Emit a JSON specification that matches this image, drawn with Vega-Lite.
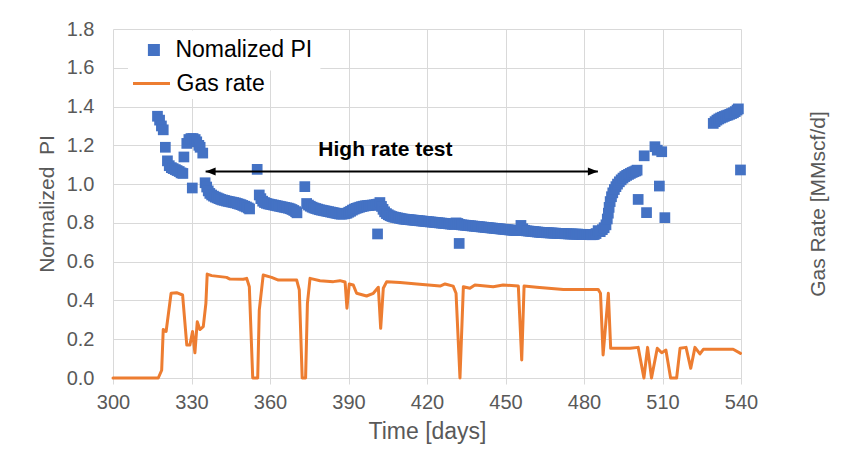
{
  "$schema": "https://vega.github.io/schema/vega-lite/v6.json",
  "width": 628,
  "height": 349,
  "autosize": {"type": "none"},
  "padding": {"left": 113, "top": 29, "right": 112, "bottom": 81},
  "background": "white",
  "config": {
    "font": "Liberation Sans",
    "view": {"stroke": null},
    "axis": {
      "labelFont": "Liberation Sans",
      "titleFont": "Liberation Sans",
      "labelFontSize": 20,
      "titleFontSize": 21,
      "labelColor": "#595959",
      "titleColor": "#595959",
      "titleFontWeight": "normal",
      "labelOverlap": false,
      "labelSeparation": 0,
      "gridColor": "#d9d9d9",
      "gridWidth": 1,
      "domainColor": "#d9d9d9",
      "tickColor": "#d9d9d9"
    },
    "axisY": {
      "values": [0, 0.2, 0.4, 0.6, 0.8, 1.0, 1.2, 1.4, 1.6, 1.8],
      "labelOverlap": false,
      "labelBound": false,
      "labelFlush": false
    }
  },
  "datasets": {
    "pi": [
      {"day": 317.0, "pi": 1.35}, {"day": 317.8, "pi": 1.33}, {"day": 318.5, "pi": 1.30}, {"day": 319.2, "pi": 1.28},
      {"day": 320.0, "pi": 1.19}, {"day": 320.8, "pi": 1.12}, {"day": 321.5, "pi": 1.095}, {"day": 322.3, "pi": 1.085},
      {"day": 323.0, "pi": 1.08}, {"day": 323.8, "pi": 1.075}, {"day": 324.5, "pi": 1.07}, {"day": 325.3, "pi": 1.065},
      {"day": 326.0, "pi": 1.058}, {"day": 326.7, "pi": 1.055}, {"day": 327.1, "pi": 1.14}, {"day": 328.2, "pi": 1.21},
      {"day": 329.0, "pi": 1.23}, {"day": 329.8, "pi": 1.235}, {"day": 330.6, "pi": 1.235}, {"day": 331.4, "pi": 1.23},
      {"day": 332.0, "pi": 1.218}, {"day": 332.8, "pi": 1.2}, {"day": 333.3, "pi": 1.19}, {"day": 334.3, "pi": 1.16},
      {"day": 330.3, "pi": 0.98},
      {"day": 335.2, "pi": 1.007}, {"day": 335.8, "pi": 0.985}, {"day": 336.4, "pi": 0.965}, {"day": 337.0, "pi": 0.952},
      {"day": 337.7, "pi": 0.944}, {"day": 338.4, "pi": 0.938}, {"day": 339.1, "pi": 0.933}, {"day": 339.8, "pi": 0.929},
      {"day": 340.5, "pi": 0.925}, {"day": 341.2, "pi": 0.921}, {"day": 341.9, "pi": 0.918}, {"day": 342.6, "pi": 0.916},
      {"day": 343.3, "pi": 0.913}, {"day": 344.0, "pi": 0.911}, {"day": 344.7, "pi": 0.909}, {"day": 345.4, "pi": 0.907},
      {"day": 346.1, "pi": 0.905}, {"day": 346.8, "pi": 0.903}, {"day": 347.5, "pi": 0.9}, {"day": 348.2, "pi": 0.897},
      {"day": 348.9, "pi": 0.894}, {"day": 349.6, "pi": 0.89}, {"day": 350.3, "pi": 0.886}, {"day": 351.0, "pi": 0.882},
      {"day": 351.7, "pi": 0.877}, {"day": 352.2, "pi": 0.872},
      {"day": 355.1, "pi": 1.076}, {"day": 355.9, "pi": 0.944}, {"day": 356.5, "pi": 0.925}, {"day": 357.2, "pi": 0.912},
      {"day": 357.9, "pi": 0.905}, {"day": 358.6, "pi": 0.901}, {"day": 359.3, "pi": 0.898}, {"day": 360.0, "pi": 0.896},
      {"day": 360.7, "pi": 0.894}, {"day": 361.4, "pi": 0.892}, {"day": 362.1, "pi": 0.89}, {"day": 362.8, "pi": 0.888},
      {"day": 363.5, "pi": 0.886}, {"day": 364.2, "pi": 0.884}, {"day": 364.9, "pi": 0.882}, {"day": 365.6, "pi": 0.88},
      {"day": 366.3, "pi": 0.878}, {"day": 367.0, "pi": 0.876}, {"day": 367.7, "pi": 0.873}, {"day": 368.4, "pi": 0.869},
      {"day": 369.1, "pi": 0.864}, {"day": 369.8, "pi": 0.858}, {"day": 370.3, "pi": 0.852},
      {"day": 373.3, "pi": 0.987}, {"day": 374.0, "pi": 0.9}, {"day": 374.7, "pi": 0.892}, {"day": 375.4, "pi": 0.886},
      {"day": 376.1, "pi": 0.881}, {"day": 376.8, "pi": 0.877}, {"day": 377.5, "pi": 0.874}, {"day": 378.2, "pi": 0.871},
      {"day": 378.9, "pi": 0.868}, {"day": 379.6, "pi": 0.866}, {"day": 380.3, "pi": 0.864}, {"day": 381.0, "pi": 0.862},
      {"day": 381.7, "pi": 0.86}, {"day": 382.4, "pi": 0.858}, {"day": 383.1, "pi": 0.856}, {"day": 383.8, "pi": 0.854},
      {"day": 384.5, "pi": 0.852}, {"day": 385.2, "pi": 0.85}, {"day": 385.9, "pi": 0.848}, {"day": 386.6, "pi": 0.846},
      {"day": 387.3, "pi": 0.845}, {"day": 388.0, "pi": 0.846}, {"day": 388.7, "pi": 0.848}, {"day": 389.4, "pi": 0.85},
      {"day": 390.1, "pi": 0.855}, {"day": 390.8, "pi": 0.86}, {"day": 391.5, "pi": 0.866}, {"day": 392.2, "pi": 0.871},
      {"day": 392.9, "pi": 0.875}, {"day": 393.6, "pi": 0.878}, {"day": 394.3, "pi": 0.881}, {"day": 395.0, "pi": 0.884},
      {"day": 395.7, "pi": 0.886}, {"day": 396.4, "pi": 0.888}, {"day": 397.1, "pi": 0.889}, {"day": 397.8, "pi": 0.89},
      {"day": 398.5, "pi": 0.891}, {"day": 399.2, "pi": 0.892}, {"day": 399.9, "pi": 0.893}, {"day": 400.6, "pi": 0.895},
      {"day": 401.3, "pi": 0.897}, {"day": 402.0, "pi": 0.905}, {"day": 401.1, "pi": 0.743}, {"day": 402.6, "pi": 0.885},
      {"day": 403.2, "pi": 0.87}, {"day": 403.8, "pi": 0.857}, {"day": 404.5, "pi": 0.848}, {"day": 405.2, "pi": 0.842},
      {"day": 405.9, "pi": 0.837}, {"day": 406.6, "pi": 0.833}, {"day": 407.3, "pi": 0.83}, {"day": 408.0, "pi": 0.828},
      {"day": 408.7, "pi": 0.826}, {"day": 409.4, "pi": 0.824}, {"day": 410.1, "pi": 0.822}, {"day": 410.8, "pi": 0.82},
      {"day": 411.5, "pi": 0.819}, {"day": 412.2, "pi": 0.818}, {"day": 412.9, "pi": 0.817}, {"day": 413.6, "pi": 0.816},
      {"day": 414.3, "pi": 0.815}, {"day": 415.0, "pi": 0.814}, {"day": 415.7, "pi": 0.813}, {"day": 416.4, "pi": 0.812},
      {"day": 417.1, "pi": 0.811}, {"day": 417.8, "pi": 0.81}, {"day": 418.5, "pi": 0.809}, {"day": 419.2, "pi": 0.808},
      {"day": 419.9, "pi": 0.807}, {"day": 420.6, "pi": 0.806}, {"day": 421.3, "pi": 0.805}, {"day": 422.0, "pi": 0.804},
      {"day": 422.7, "pi": 0.803}, {"day": 423.4, "pi": 0.802}, {"day": 424.1, "pi": 0.801}, {"day": 424.8, "pi": 0.8},
      {"day": 425.5, "pi": 0.799}, {"day": 426.2, "pi": 0.798}, {"day": 426.9, "pi": 0.797}, {"day": 427.6, "pi": 0.796},
      {"day": 428.3, "pi": 0.795}, {"day": 429.0, "pi": 0.794}, {"day": 429.7, "pi": 0.793}, {"day": 430.4, "pi": 0.792},
      {"day": 431.1, "pi": 0.8}, {"day": 431.8, "pi": 0.797}, {"day": 432.3, "pi": 0.694}, {"day": 432.5, "pi": 0.792},
      {"day": 433.2, "pi": 0.79}, {"day": 433.9, "pi": 0.789}, {"day": 434.6, "pi": 0.788}, {"day": 435.3, "pi": 0.787},
      {"day": 436.0, "pi": 0.786}, {"day": 436.7, "pi": 0.785}, {"day": 437.4, "pi": 0.784}, {"day": 438.1, "pi": 0.783},
      {"day": 438.8, "pi": 0.782}, {"day": 439.5, "pi": 0.781}, {"day": 440.2, "pi": 0.78}, {"day": 440.9, "pi": 0.779},
      {"day": 441.6, "pi": 0.778}, {"day": 442.3, "pi": 0.777}, {"day": 443.0, "pi": 0.776}, {"day": 443.7, "pi": 0.775},
      {"day": 444.4, "pi": 0.774}, {"day": 445.1, "pi": 0.773}, {"day": 445.8, "pi": 0.772}, {"day": 446.5, "pi": 0.771},
      {"day": 447.2, "pi": 0.77}, {"day": 447.9, "pi": 0.769}, {"day": 448.6, "pi": 0.768}, {"day": 449.3, "pi": 0.767},
      {"day": 450.0, "pi": 0.766}, {"day": 450.7, "pi": 0.765}, {"day": 451.4, "pi": 0.764}, {"day": 452.1, "pi": 0.763},
      {"day": 452.8, "pi": 0.762}, {"day": 453.5, "pi": 0.761}, {"day": 454.2, "pi": 0.76}, {"day": 455.9, "pi": 0.787},
      {"day": 456.6, "pi": 0.77}, {"day": 457.3, "pi": 0.762}, {"day": 458.0, "pi": 0.759}, {"day": 458.7, "pi": 0.758},
      {"day": 459.4, "pi": 0.757}, {"day": 460.1, "pi": 0.756}, {"day": 460.8, "pi": 0.755}, {"day": 461.5, "pi": 0.754},
      {"day": 462.2, "pi": 0.753}, {"day": 462.9, "pi": 0.752}, {"day": 463.6, "pi": 0.751}, {"day": 464.3, "pi": 0.75},
      {"day": 465.0, "pi": 0.75}, {"day": 465.7, "pi": 0.749}, {"day": 466.4, "pi": 0.749}, {"day": 467.1, "pi": 0.748},
      {"day": 467.8, "pi": 0.748}, {"day": 468.5, "pi": 0.747}, {"day": 469.2, "pi": 0.747}, {"day": 469.9, "pi": 0.746},
      {"day": 470.6, "pi": 0.746}, {"day": 471.3, "pi": 0.745}, {"day": 472.0, "pi": 0.745}, {"day": 472.7, "pi": 0.744},
      {"day": 473.4, "pi": 0.744}, {"day": 474.1, "pi": 0.743}, {"day": 474.8, "pi": 0.743}, {"day": 475.5, "pi": 0.743},
      {"day": 476.2, "pi": 0.742}, {"day": 476.9, "pi": 0.742}, {"day": 477.6, "pi": 0.742}, {"day": 478.3, "pi": 0.741},
      {"day": 479.0, "pi": 0.741}, {"day": 479.7, "pi": 0.741}, {"day": 480.4, "pi": 0.74}, {"day": 481.1, "pi": 0.74},
      {"day": 481.8, "pi": 0.74}, {"day": 482.5, "pi": 0.739}, {"day": 483.2, "pi": 0.739}, {"day": 483.9, "pi": 0.74},
      {"day": 484.6, "pi": 0.745}, {"day": 485.4, "pi": 0.76}, {"day": 486.2, "pi": 0.755}, {"day": 487.0, "pi": 0.765},
      {"day": 487.7, "pi": 0.775}, {"day": 488.4, "pi": 0.79}, {"day": 488.9, "pi": 0.82}, {"day": 489.3, "pi": 0.85},
      {"day": 489.6, "pi": 0.88}, {"day": 490.0, "pi": 0.91}, {"day": 490.5, "pi": 0.935}, {"day": 491.0, "pi": 0.955},
      {"day": 491.6, "pi": 0.972}, {"day": 492.2, "pi": 0.987}, {"day": 492.8, "pi": 1.0}, {"day": 493.5, "pi": 1.012},
      {"day": 494.2, "pi": 1.022}, {"day": 494.9, "pi": 1.031}, {"day": 495.6, "pi": 1.039}, {"day": 496.3, "pi": 1.045},
      {"day": 497.0, "pi": 1.05}, {"day": 497.7, "pi": 1.055}, {"day": 498.4, "pi": 1.06}, {"day": 499.1, "pi": 1.064},
      {"day": 499.8, "pi": 1.068}, {"day": 500.3, "pi": 1.072}, {"day": 500.7, "pi": 0.921}, {"day": 503.0, "pi": 1.146},
      {"day": 503.9, "pi": 0.853}, {"day": 507.1, "pi": 1.193}, {"day": 508.0, "pi": 1.175}, {"day": 508.8, "pi": 0.99},
      {"day": 509.7, "pi": 1.167}, {"day": 510.9, "pi": 0.827},
      {"day": 529.4, "pi": 1.313}, {"day": 530.1, "pi": 1.322}, {"day": 530.8, "pi": 1.33}, {"day": 531.5, "pi": 1.336},
      {"day": 532.2, "pi": 1.341}, {"day": 532.9, "pi": 1.345}, {"day": 533.6, "pi": 1.349}, {"day": 534.3, "pi": 1.353},
      {"day": 535.0, "pi": 1.356}, {"day": 535.7, "pi": 1.36}, {"day": 536.4, "pi": 1.364}, {"day": 537.1, "pi": 1.368},
      {"day": 537.8, "pi": 1.374}, {"day": 538.5, "pi": 1.382}, {"day": 539.0, "pi": 1.388}, {"day": 539.8, "pi": 1.073}
    ],
    "gas": [
      {"day": 300, "rate": 0}, {"day": 317.3, "rate": 0}, {"day": 318.6, "rate": 0.04}, {"day": 319.2, "rate": 0.25},
      {"day": 320.3, "rate": 0.24}, {"day": 322.2, "rate": 0.437}, {"day": 324.3, "rate": 0.44}, {"day": 326.6, "rate": 0.428},
      {"day": 328.2, "rate": 0.17}, {"day": 329.4, "rate": 0.17}, {"day": 330.4, "rate": 0.24}, {"day": 331.3, "rate": 0.13},
      {"day": 332.2, "rate": 0.29}, {"day": 333.2, "rate": 0.25}, {"day": 334.5, "rate": 0.265}, {"day": 335.5, "rate": 0.385},
      {"day": 336.0, "rate": 0.536}, {"day": 337.7, "rate": 0.528}, {"day": 343.4, "rate": 0.519}, {"day": 344.7, "rate": 0.51},
      {"day": 349.8, "rate": 0.509}, {"day": 351.1, "rate": 0.514}, {"day": 352.1, "rate": 0.471}, {"day": 353.4, "rate": 0},
      {"day": 355.3, "rate": 0}, {"day": 355.9, "rate": 0.35}, {"day": 357.4, "rate": 0.531}, {"day": 360.6, "rate": 0.519},
      {"day": 363.2, "rate": 0.505}, {"day": 370.2, "rate": 0.505}, {"day": 371.2, "rate": 0.454}, {"day": 372.3, "rate": 0},
      {"day": 373.6, "rate": 0}, {"day": 374.3, "rate": 0.385}, {"day": 375.3, "rate": 0.514}, {"day": 379.1, "rate": 0.502},
      {"day": 384.2, "rate": 0.497}, {"day": 386.7, "rate": 0.502}, {"day": 388.7, "rate": 0.495}, {"day": 389.4, "rate": 0.36},
      {"day": 390.3, "rate": 0.485}, {"day": 391.8, "rate": 0.48}, {"day": 393.1, "rate": 0.437}, {"day": 396.9, "rate": 0.423},
      {"day": 399.5, "rate": 0.437}, {"day": 401.4, "rate": 0.468}, {"day": 402.3, "rate": 0.256}, {"day": 403.3, "rate": 0.463},
      {"day": 404.6, "rate": 0.497}, {"day": 409.7, "rate": 0.492}, {"day": 416.1, "rate": 0.485}, {"day": 425.0, "rate": 0.474},
      {"day": 426.9, "rate": 0.485}, {"day": 430.0, "rate": 0.474}, {"day": 431.1, "rate": 0.437}, {"day": 432.6, "rate": 0},
      {"day": 433.9, "rate": 0.471}, {"day": 436.4, "rate": 0.463}, {"day": 438.3, "rate": 0.48}, {"day": 445.3, "rate": 0.471},
      {"day": 449.1, "rate": 0.48}, {"day": 454.9, "rate": 0.474}, {"day": 456.2, "rate": 0.093}, {"day": 457.1, "rate": 0.474},
      {"day": 461.9, "rate": 0.468}, {"day": 472.1, "rate": 0.457}, {"day": 485.4, "rate": 0.457}, {"day": 486.3, "rate": 0.437},
      {"day": 487.3, "rate": 0.119}, {"day": 489.3, "rate": 0.437}, {"day": 490.2, "rate": 0.153}, {"day": 497.6, "rate": 0.153},
      {"day": 500.7, "rate": 0.158}, {"day": 502.9, "rate": 0}, {"day": 504.3, "rate": 0.158}, {"day": 505.8, "rate": 0},
      {"day": 508.0, "rate": 0.153}, {"day": 509.7, "rate": 0.13}, {"day": 511.3, "rate": 0.144}, {"day": 513.1, "rate": 0},
      {"day": 515.4, "rate": 0}, {"day": 516.7, "rate": 0.153}, {"day": 519.0, "rate": 0.158}, {"day": 520.8, "rate": 0.05},
      {"day": 522.4, "rate": 0.158}, {"day": 524.3, "rate": 0.124}, {"day": 525.6, "rate": 0.148}, {"day": 537.0, "rate": 0.148},
      {"day": 539.8, "rate": 0.127}
    ],
    "arrow": [
      {"start": 335.4, "end": 485.3, "level": 1.065}
    ],
    "heads": [
      {"day": 335.4, "level": 1.065, "side": "left"},
      {"day": 485.3, "level": 1.065, "side": "right"}
    ],
    "label": [
      {"day": 404.1, "level": 1.145, "text": "High rate test"}
    ]
  },
  "resolve": {"scale": {"y": "independent"}},
  "layer": [
    {
      "encoding": {
        "y": {
          "type": "quantitative",
          "scale": {"domain": [0, 1.8], "nice": false},
          "axis": {
            "values": [0, 0.2, 0.4, 0.6, 0.8, 1.0, 1.2, 1.4, 1.6, 1.8],
            "format": ".1f",
            "title": "Normalized\u00a0 PI",
            "ticks": false,
            "domain": false,
            "labelPadding": 19,
            "titlePadding": 9,
            "labelOverlap": false,
            "labelBound": false,
            "labelFlush": false,
            "grid": true
          }
        }
      },
      "layer": [
        {
          "data": {"name": "pi"},
          "mark": {"type": "point", "shape": "square", "filled": true, "opacity": 1, "size": 115, "color": "#4472c4"},
          "encoding": {
            "x": {
              "field": "day", "type": "quantitative",
              "scale": {"domain": [300, 540], "nice": false, "zero": false},
              "axis": {
                "values": [300, 330, 360, 390, 420, 450, 480, 510, 540],
                "title": "Time [days]",
                "titleFontSize": 23,
                "tickSize": 6,
                "labelPadding": 8,
                "titlePadding": 8,
                "labelOverlap": false,
                "labelFlush": false,
                "grid": true
              }
            },
            "y": {"field": "pi"},
            "shape": {
              "datum": "Nomalized PI",
              "type": "nominal",
              "scale": {"domain": ["Nomalized PI"], "range": ["square"]},
              "legend": {
                "title": null,
                "orient": "none",
                "legendX": 21.4,
                "legendY": 1.5,
                "padding": 8,
                "fillColor": "white",
                "labelFont": "Liberation Sans",
                "labelFontSize": 23,
                "labelColor": "#000000",
                "labelOffset": 10,
                "symbolSize": 144,
                "symbolStrokeWidth": 0,
                "symbolFillColor": "#4472c4",
                "symbolOpacity": 1
              }
            }
          }
        },
        {
          "data": {"name": "arrow"},
          "mark": {"type": "rule", "color": "#000000", "strokeWidth": 2},
          "encoding": {
            "x": {"field": "start", "type": "quantitative"},
            "x2": {"field": "end"},
            "y": {"field": "level"}
          }
        },
        {
          "data": {"name": "heads"},
          "mark": {"type": "point", "filled": true, "opacity": 1, "color": "#000000", "size": 100},
          "encoding": {
            "x": {"field": "day", "type": "quantitative"},
            "y": {"field": "level"},
            "shape": {
              "field": "side", "type": "nominal",
              "scale": {"domain": ["left", "right"], "range": ["M 2 -0.8 L 0 0 L 2 0.8 Z", "M -2 -0.8 L 0 0 L -2 0.8 Z"]},
              "legend": null
            }
          }
        },
        {
          "data": {"name": "label"},
          "mark": {"type": "text", "font": "Liberation Sans", "fontSize": 21, "fontWeight": "bold", "color": "#000000", "align": "center", "baseline": "alphabetic"},
          "encoding": {
            "x": {"field": "day", "type": "quantitative"},
            "y": {"field": "level"},
            "text": {"field": "text"}
          }
        }
      ],
      "resolve": {"scale": {"shape": "independent"}}
    },
    {
      "data": {"name": "gas"},
      "mark": {"type": "line", "strokeWidth": 3, "strokeJoin": "round", "strokeCap": "round"},
      "encoding": {
        "x": {"field": "day", "type": "quantitative"},
        "y": {
          "field": "rate", "type": "quantitative",
          "scale": {"domain": [0, 1.8], "nice": false},
          "axis": {
            "orient": "right",
            "title": "Gas Rate [MMscf/d]",
            "titleAngle": 270,
            "labels": false,
            "ticks": false,
            "domain": false,
            "grid": false,
            "titlePadding": 87
          }
        },
        "color": {
          "datum": "Gas rate",
          "type": "nominal",
          "scale": {"domain": ["Gas rate"], "range": ["#ed7d31"]},
          "legend": {
            "title": null,
            "orient": "none",
            "legendX": 15,
            "legendY": 31,
            "padding": 3.5,
            "fillColor": "white",
            "labelFont": "Liberation Sans",
            "labelFontSize": 23,
            "labelColor": "#000000",
            "labelOffset": 5,
            "symbolType": "stroke",
            "symbolSize": 1369,
            "symbolStrokeWidth": 3,
            "symbolOpacity": 1
          }
        }
      }
    }
  ]
}
